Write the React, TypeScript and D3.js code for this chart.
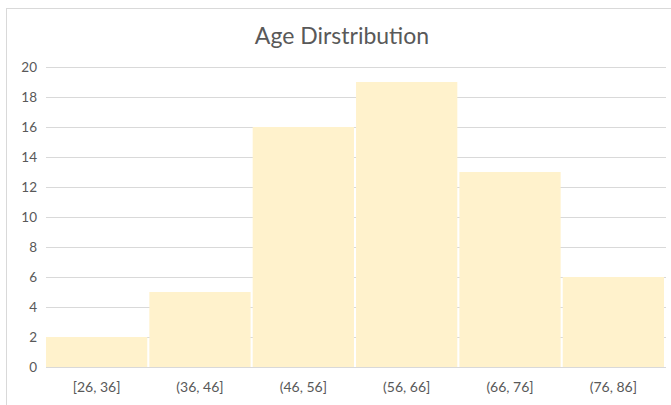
import React, { useEffect, useRef } from "react";
import * as d3 from "d3";

const bins = ["[26, 36]", "(36, 46]", "(46, 56]", "(56, 66]", "(66, 76]", "(76, 86]"];
const counts = [2, 5, 16, 19, 13, 6];
const yTicks = [0, 2, 4, 6, 8, 10, 12, 14, 16, 18, 20];

const W = 671;
const H = 405;

export default function App() {
  const ref = useRef<SVGSVGElement>(null);

  useEffect(() => {
    const svg = d3.select(ref.current);
    svg.selectAll("*").remove(); // clear

    const margin = { top: 67, right: 7, bottom: 38, left: 46 };
    const font = "Lato, 'Open Sans', sans-serif";

    // chart frame (right/bottom run off the picture)
    svg
      .append("rect")
      .attr("x", 6.5)
      .attr("y", 8.5)
      .attr("width", W + 10)
      .attr("height", H + 10)
      .attr("fill", "#fff")
      .attr("stroke", "#d9d9d9");

    const x = d3
      .scaleBand()
      .domain(bins)
      .range([margin.left, W - margin.right])
      .paddingInner(0.02)
      .paddingOuter(0);

    const y = d3
      .scaleLinear()
      .domain([0, 20])
      .range([H - margin.bottom, margin.top]);

    // gridlines
    svg
      .append("g")
      .selectAll("line")
      .data(yTicks)
      .join("line")
      .attr("x1", margin.left)
      .attr("x2", W - margin.right + 2)
      .attr("y1", (d) => Math.round(y(d)) + 0.5)
      .attr("y2", (d) => Math.round(y(d)) + 0.5)
      .attr("stroke", "#d9d9d9")
      .attr("stroke-width", 1);

    // bars
    svg
      .append("g")
      .selectAll("rect")
      .data(counts)
      .join("rect")
      .attr("x", (d, i) => x(bins[i])!)
      .attr("y", (d) => y(d))
      .attr("width", x.bandwidth())
      .attr("height", (d) => y(0) - y(d))
      .attr("fill", "#fff2cc");

    // y labels
    svg
      .append("g")
      .selectAll("text")
      .data(yTicks)
      .join("text")
      .attr("x", 37)
      .attr("y", (d) => y(d))
      .attr("dy", "0.35em")
      .attr("text-anchor", "end")
      .attr("font-family", font)
      .attr("font-size", 13.5)
      .attr("fill", "#595959")
      .text((d) => d);

    // x labels
    svg
      .append("g")
      .selectAll("text")
      .data(bins)
      .join("text")
      .attr("x", (d) => x(d)! + x.bandwidth() / 2)
      .attr("y", 392)
      .attr("text-anchor", "middle")
      .attr("font-family", font)
      .attr("font-size", 14)
      .attr("fill", "#595959")
      .text((d) => d);

    svg
      .append("text")
      .attr("x", 342)
      .attr("y", 44)
      .attr("text-anchor", "middle")
      .attr("font-family", font)
      .attr("font-size", 23)
      .attr("fill", "#595959")
      .text("Age Dirstribution");
  }, []);

  return (
    <svg
      ref={ref}
      width={W}
      height={H}
      style={{ position: "fixed", left: 0, top: 0, background: "#fff" }}
    />
  );
}
